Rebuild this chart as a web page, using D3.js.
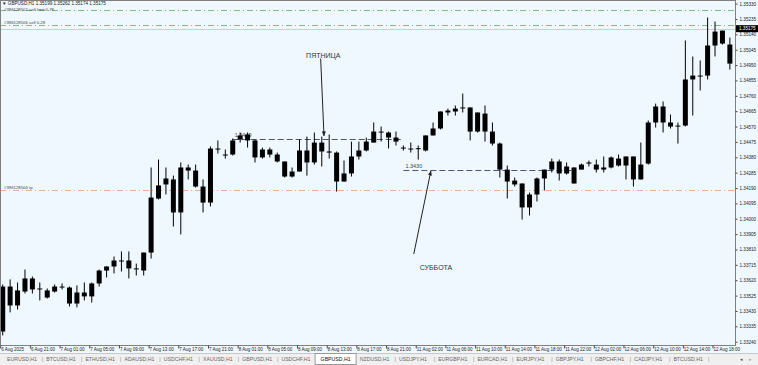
<!DOCTYPE html>
<html>
<head>
<meta charset="utf-8">
<script src="https://cdn.jsdelivr.net/npm/d3@7"></script>
<style>
body { margin: 0; background: #f0f0f0; }
svg text { font-family: "Liberation Sans", Arial, sans-serif; }
</style>
</head>
<body>
<div class="chart"></div>
<script>
/**
 * Data: GBPUSD H1 bars
 */
var sessions = [
    ['6 Aug', 17, 23],
    ['7 Aug', 0, 23],
    ['8 Aug', 0, 22],
    ['11 Aug', 0, 23],
    ['12 Aug', 0, 20]
];
var barTimes = [];
sessions.forEach(function (s) {
    for (var h = s[1]; h <= s[2]; h++) barTimes.push(s[0] + ' ' + (h < 10 ? '0' : '') + h + ':00');
});

var open = [1.33303, 1.33581, 1.33464, 1.33550, 1.33631, 1.33569, 1.33557, 1.33550, 1.33581, 1.33575,
    1.33476, 1.33544, 1.33520, 1.33600, 1.33680, 1.33705, 1.33742, 1.33742, 1.33693, 1.33680,
    1.33791, 1.34125, 1.34212, 1.34243, 1.34039, 1.34317, 1.34298, 1.34199, 1.34100, 1.34434,
    1.34397, 1.34397, 1.34490, 1.34521, 1.34484, 1.34379, 1.34428, 1.34397, 1.34354, 1.34261,
    1.34292, 1.34422, 1.34348, 1.34471, 1.34416, 1.34409, 1.34230, 1.34280, 1.34385, 1.34422,
    1.34471, 1.34539, 1.34533, 1.34502, 1.34440, 1.34434, 1.34434, 1.34422, 1.34515, 1.34558,
    1.34657, 1.34663, 1.34688, 1.34688, 1.34539, 1.34650, 1.34539, 1.34465, 1.34304, 1.34236,
    1.34218, 1.34070, 1.34150, 1.34249, 1.34304, 1.34354, 1.34280, 1.34317, 1.34304, 1.34341,
    1.34335, 1.34304, 1.34317, 1.34372, 1.34329, 1.34385, 1.34243, 1.34341, 1.34595, 1.34694,
    1.34595, 1.34570, 1.34576, 1.34861, 1.34885, 1.34885, 1.35071, 1.35163, 1.35077];
var high = [1.33594, 1.33625, 1.33606, 1.33686, 1.33643, 1.33606, 1.33569, 1.33594, 1.33600, 1.33581,
    1.33588, 1.33606, 1.33606, 1.33686, 1.33705, 1.33767, 1.33798, 1.33798, 1.33723, 1.33791,
    1.34317, 1.34366, 1.34317, 1.34267, 1.34348, 1.34335, 1.34335, 1.34243, 1.34447, 1.34484,
    1.34428, 1.34496, 1.34533, 1.34533, 1.34490, 1.34440, 1.34440, 1.34409, 1.34354, 1.34317,
    1.34490, 1.34508, 1.34533, 1.34508, 1.34521, 1.34416, 1.34360, 1.34477, 1.34477, 1.34502,
    1.34595, 1.34570, 1.34539, 1.34539, 1.34453, 1.34471, 1.34453, 1.34515, 1.34595, 1.34663,
    1.34681, 1.34700, 1.34774, 1.34688, 1.34657, 1.34700, 1.34595, 1.34471, 1.34329, 1.34255,
    1.34218, 1.34162, 1.34255, 1.34304, 1.34372, 1.34366, 1.34348, 1.34317, 1.34341, 1.34360,
    1.34366, 1.34385, 1.34385, 1.34397, 1.34385, 1.34385, 1.34471, 1.34607, 1.34712, 1.34725,
    1.34644, 1.34595, 1.35102, 1.35003, 1.34978, 1.35244, 1.35219, 1.35163, 1.35120];
var low = [1.33279, 1.33421, 1.33439, 1.33538, 1.33538, 1.33495, 1.33507, 1.33544, 1.33563, 1.33458,
    1.33452, 1.33495, 1.33482, 1.33581, 1.33637, 1.33662, 1.33674, 1.33631, 1.33649, 1.33649,
    1.33754, 1.34119, 1.34150, 1.33952, 1.33903, 1.34243, 1.34193, 1.34039, 1.34076, 1.34403,
    1.34372, 1.34391, 1.34471, 1.34440, 1.34348, 1.34372, 1.34379, 1.34348, 1.34255, 1.34255,
    1.34292, 1.34267, 1.34335, 1.34323, 1.34372, 1.34168, 1.34230, 1.34261, 1.34366, 1.34416,
    1.34471, 1.34477, 1.34434, 1.34453, 1.34422, 1.34409, 1.34366, 1.34416, 1.34515, 1.34552,
    1.34638, 1.34638, 1.34657, 1.34484, 1.34533, 1.34477, 1.34453, 1.34255, 1.34125, 1.34199,
    1.33995, 1.34020, 1.34107, 1.34175, 1.34286, 1.34236, 1.34273, 1.34218, 1.34304, 1.34323,
    1.34286, 1.34286, 1.34311, 1.34323, 1.34243, 1.34199, 1.34243, 1.34335, 1.34564, 1.34533,
    1.34558, 1.34465, 1.34570, 1.34638, 1.34793, 1.34861, 1.35003, 1.35077, 1.34922];
var close = [1.33581, 1.33464, 1.33557, 1.33631, 1.33563, 1.33567, 1.33513, 1.33581, 1.33577, 1.33476,
    1.33544, 1.33520, 1.33600, 1.33680, 1.33705, 1.33742, 1.33740, 1.33693, 1.33688, 1.33791,
    1.34131, 1.34206, 1.34249, 1.34039, 1.34317, 1.34298, 1.34199, 1.34100, 1.34434, 1.34428,
    1.34391, 1.34484, 1.34515, 1.34484, 1.34379, 1.34428, 1.34397, 1.34354, 1.34261, 1.34292,
    1.34422, 1.34348, 1.34471, 1.34416, 1.34409, 1.34230, 1.34280, 1.34385, 1.34422, 1.34477,
    1.34539, 1.34533, 1.34502, 1.34477, 1.34434, 1.34432, 1.34436, 1.34515, 1.34558, 1.34663,
    1.34669, 1.34681, 1.34686, 1.34539, 1.34657, 1.34539, 1.34465, 1.34304, 1.34230, 1.34212,
    1.34070, 1.34150, 1.34249, 1.34304, 1.34354, 1.34280, 1.34323, 1.34218, 1.34335, 1.34348,
    1.34304, 1.34317, 1.34379, 1.34329, 1.34385, 1.34243, 1.34335, 1.34595, 1.34694, 1.34595,
    1.34570, 1.34576, 1.34861, 1.34885, 1.34883, 1.35071, 1.35157, 1.35083, 1.34959];

var priceTicks = ['1.35330', '1.35235', '1.35140', '1.35045', '1.34950', '1.34855', '1.34760', '1.34665',
    '1.34570', '1.34475', '1.34380', '1.34285', '1.34190', '1.34095', '1.34000', '1.33905', '1.33810',
    '1.33715', '1.33620', '1.33525', '1.33430', '1.33335', '1.33240'];
var timeLabels = ['6 Aug 2025', '6 Aug 21:00', '7 Aug 01:00', '7 Aug 05:00', '7 Aug 09:00', '7 Aug 13:00',
    '7 Aug 17:00', '7 Aug 21:00', '8 Aug 01:00', '8 Aug 05:00', '8 Aug 09:00', '8 Aug 13:00', '8 Aug 17:00',
    '8 Aug 21:00', '11 Aug 02:00', '11 Aug 06:00', '11 Aug 10:00', '11 Aug 14:00', '11 Aug 18:00',
    '11 Aug 22:00', '12 Aug 02:00', '12 Aug 06:00', '12 Aug 10:00', '12 Aug 14:00', '12 Aug 18:00'];

var header = 'GBPUSD,H1  1.35199 1.35262 1.35174 1.35175';
var bidPrice = 1.35175;

// order lines: [label, price, colour]
var orderLines = [
    ['#396128502 sell limit 0.78', 1.35293, '#7cbf7c'],
    ['#396128506 sell 0.28', 1.35200, '#7cbf7c'],
    ['#396128506 tp', 1.34175, '#eab08c']
];
// hand drawn levels: [label, fromBar, toBar, price]
var levels = [
    ['1.3449', 31, 54, 1.34492],
    ['1.3430', 54, 77, 1.34300]
];
// notes: [text, textBar, textPrice, arrowFromBar, fromPrice, arrowToBar, toPrice]
var notes = [
    ['ПЯТНИЦА', 43.2, 1.35012, 42.85, 1.34990, 43.3, 1.34512],
    ['СУББОТА', 58.4, 1.33700, 55.4, 1.33782, 57.7, 1.34295]
];

var tabs = ['EURUSD,H1', 'BTCUSD,H1', 'ETHUSD,H1', 'ADAUSD,H1', 'USDCHF,H1', 'XAUUSD,H1', 'GBPUSD,H1',
    'USDCHF,H1', 'GBPUSD,H1', 'NZDUSD,H1', 'USDJPY,H1', 'EURGBP,H1', 'EURCAD,H1', 'EURJPY,H1',
    'GBPJPY,H1', 'GBPCHF,H1', 'CADJPY,H1', 'BTCUSD,H1'];
var activeTab = 8;

/**
 * Layout
 */
var W = 758, H = 365;
var plotRight = 735, plotBottom = 345, tabTop = 353;

var svg = d3.select('.chart')
    .append('svg')
    .attr('width', W)
    .attr('height', H);

svg.append('rect').attr('width', W).attr('height', tabTop).style('fill', '#f0f8ff');
svg.append('rect').attr('y', tabTop).attr('width', W).attr('height', H - tabTop).style('fill', '#f0f0f0');

var x = d3.scaleBand()
    .domain(barTimes)
    .range([-1, -1 + 7.42 * barTimes.length]);
var y = d3.scaleLinear()
    .domain([1.33240, 1.35330])
    .range([341.7, 3.6]);

function barX(i) {
    return x.range()[0] + x.step() * (i + 0.5);
}

var plot = svg.append('g');
plot.append('clipPath').attr('id', 'clip')
    .append('rect').attr('width', plotRight).attr('height', plotBottom);

// day separators
var sepBars = barTimes.map((d, i) => i).filter(i => i > 0 && barTimes[i].split(' ')[1] !== barTimes[i - 1].split(' ')[1]);
plot.selectAll('.sep')
    .data(sepBars)
    .enter()
    .append('line')
    .attr('x1', d => Math.round(barX(d)) + 0.5)
    .attr('x2', d => Math.round(barX(d)) + 0.5)
    .attr('y1', 0)
    .attr('y2', plotBottom)
    .style('stroke', '#555')
    .style('stroke-dasharray', '1,2');

// bid line
plot.append('line')
    .attr('x1', 0).attr('x2', plotRight)
    .attr('y1', Math.round(y(bidPrice)) + 0.5).attr('y2', Math.round(y(bidPrice)) + 0.5)
    .style('stroke', '#cfcfcf');

// order lines
orderLines.forEach(function (o, k) {
    var yy = Math.round(y(o[1])) + 0.5;
    plot.append('line')
        .attr('x1', 0).attr('x2', plotRight)
        .attr('y1', yy).attr('y2', yy)
        .style('stroke', o[2])
        .style('stroke-dasharray', '6,3,1,3');
    plot.append('text')
        .attr('x', 4).attr('y', k === 0 ? yy + 0.5 : yy - 2)
        .style('font-size', '4.3px')
        .style('fill', '#444')
        .text(o[0]);
});

// levels
levels.forEach(function (l) {
    var yy = Math.round(y(l[3])) + 0.5;
    plot.append('line')
        .attr('x1', barX(l[1])).attr('x2', barX(l[2]))
        .attr('y1', yy).attr('y2', yy)
        .style('stroke', '#4b5580')
        .style('stroke-dasharray', '6,3');
    plot.append('text')
        .attr('x', barX(l[1]) + 2).attr('y', yy - 3)
        .style('font-size', '5.5px')
        .style('fill', '#444')
        .text(l[0]);
});

// candles
var candles = plot.append('g')
    .attr('clip-path', 'url(#clip)')
    .selectAll('.candle')
    .data(barTimes)
    .enter()
    .append('g')
    .attr('class', 'candle');

candles.append('line')
    .attr('x1', (d, i) => barX(i))
    .attr('x2', (d, i) => barX(i))
    .attr('y1', (d, i) => y(high[i]))
    .attr('y2', (d, i) => y(low[i]))
    .style('stroke', '#000');

candles.append('rect')
    .attr('x', (d, i) => barX(i) - 2.5)
    .attr('width', 5)
    .attr('y', (d, i) => y(Math.max(open[i], close[i])))
    .attr('height', (d, i) => Math.max(1, Math.abs(y(open[i]) - y(close[i]))))
    .style('fill', '#000');

// notes with arrows
var defs = svg.append('defs');
defs.append('marker')
    .attr('id', 'arrow')
    .attr('viewBox', '0 0 10 10')
    .attr('refX', 9).attr('refY', 5)
    .attr('markerWidth', 5).attr('markerHeight', 5)
    .attr('orient', 'auto')
    .append('path')
    .attr('d', 'M0,1L10,5L0,9z')
    .style('fill', '#222');

notes.forEach(function (n) {
    plot.append('text')
        .attr('x', barX(n[1])).attr('y', y(n[2]) + 2.5)
        .attr('text-anchor', 'middle')
        .style('font-size', '7px')
        .style('fill', '#333')
        .text(n[0]);
    plot.append('line')
        .attr('x1', barX(n[3])).attr('y1', y(n[4]))
        .attr('x2', barX(n[5])).attr('y2', y(n[6]))
        .style('stroke', '#222')
        .style('stroke-width', 1)
        .attr('marker-end', 'url(#arrow)');
});

// header
plot.append('text')
    .attr('x', 2).attr('y', 4.5)
    .style('font-size', '4.6px')
    .style('fill', '#222')
    .text('\u25BC ' + header);

// frame
svg.append('rect')
    .attr('x', 0.5).attr('y', 0.5)
    .attr('width', plotRight).attr('height', plotBottom)
    .style('fill', 'none')
    .style('stroke', '#808080');

/**
 * Price axis
 */
var yAxis = d3.axisRight(y)
    .tickValues(priceTicks.map(Number))
    .tickFormat(d3.format('.5f'))
    .tickSize(2)
    .tickPadding(2);
var gy = svg.append('g')
    .attr('transform', 'translate(' + (plotRight + 0.5) + ',0)')
    .call(yAxis);
gy.select('.domain').remove();
gy.selectAll('line').style('stroke', '#444');
gy.selectAll('text').style('font-size', '4.6px').style('fill', '#222').attr('font-family', null);

var bidY = y(bidPrice);
svg.append('rect')
    .attr('x', plotRight + 1).attr('y', bidY - 3.5)
    .attr('width', W - plotRight - 1).attr('height', 7)
    .style('fill', '#000');
svg.append('text')
    .attr('x', plotRight + 4).attr('y', bidY + 1.7)
    .style('font-size', '4.6px')
    .style('fill', '#fff')
    .text(bidPrice.toFixed(5));

/**
 * Time axis
 */
var tickBars = timeLabels.map((d, i) => barTimes[i * 4]);
var xAxis = d3.axisBottom(x)
    .tickValues(tickBars)
    .tickFormat((d, i) => timeLabels[i])
    .tickSize(3);
var gx = svg.append('g')
    .attr('transform', 'translate(0,' + (plotBottom + 0.5) + ')')
    .call(xAxis);
gx.select('.domain').remove();
gx.selectAll('line').attr('x1', -2).attr('x2', -2).style('stroke', '#444');
gx.selectAll('text')
    .attr('text-anchor', 'start')
    .attr('x', -1.5)
    .attr('y', 2)
    .style('font-size', '4.5px')
    .style('fill', '#222');

/**
 * Tabs
 */
svg.append('line')
    .attr('x1', 0).attr('x2', W)
    .attr('y1', tabTop + 0.5).attr('y2', tabTop + 0.5)
    .style('stroke', '#c8c8c8');

var tabPitch = 39.2;
tabs.forEach(function (t, i) {
    var tx = 7 + tabPitch * i;
    var tab = svg.append('g');
    var bg = tab.append('rect');
    var label = tab.append('text')
        .attr('x', tx).attr('y', tabTop + 8)
        .style('font-size', '5.2px')
        .style('fill', i === activeTab ? '#111' : '#666')
        .text(t);
    var w = label.node().getComputedTextLength();
    if (i === activeTab) {
        bg.attr('x', tx - 5.5).attr('y', tabTop + 0.5)
            .attr('width', w + 11).attr('height', H - tabTop - 1)
            .style('fill', '#fff')
            .style('stroke', '#999');
    } else {
        bg.remove();
        if (i !== activeTab - 1) {
            tab.append('text')
                .attr('x', tx + tabPitch - 4.5).attr('y', tabTop + 8)
                .style('font-size', '5.2px')
                .style('fill', '#888')
                .text('|');
        }
    }
});
svg.append('text').attr('x', 740).attr('y', tabTop + 8).style('font-size', '5px').style('fill', '#555').text('\u25C2');
svg.append('text').attr('x', 749).attr('y', tabTop + 8).style('font-size', '5px').style('fill', '#aaa').text('\u25B8');
</script>
</body>
</html>
